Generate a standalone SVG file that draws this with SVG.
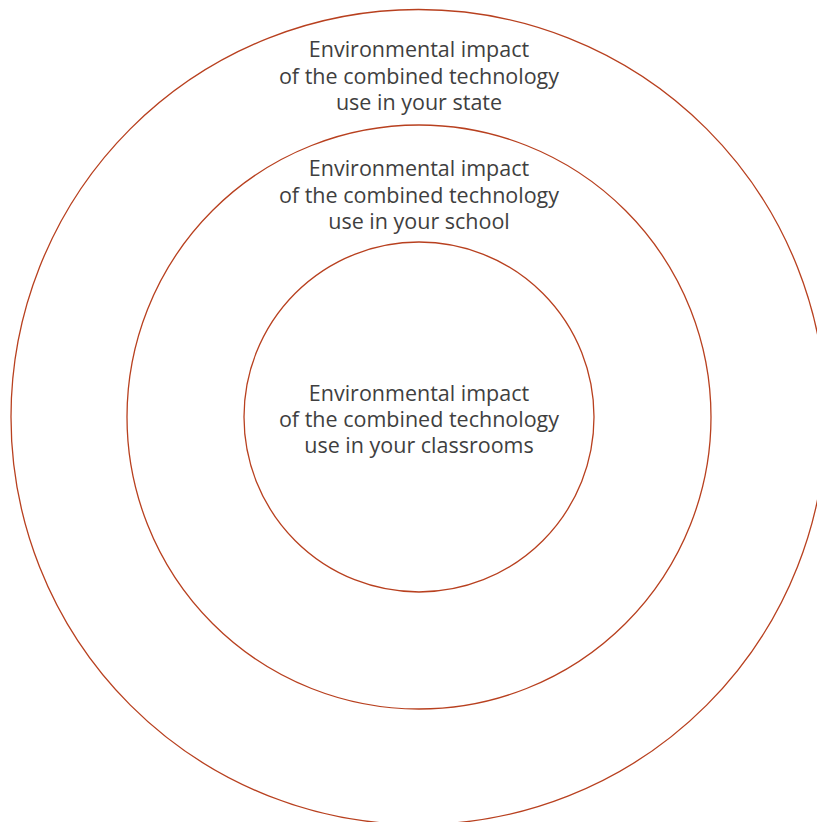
<svg xmlns="http://www.w3.org/2000/svg" width="817" height="822" viewBox="0 0 817 822">
<style>
.ring{fill:none;stroke:#b8401f;stroke-width:1.3}
.lbl{font-family:"Open Sans","Liberation Sans",sans-serif;font-size:21.5px;fill:#3f3f3f;text-anchor:middle}
</style>
<rect width="817" height="822" fill="#fff"/>
<g id="state">
<circle class="ring" cx="418.5" cy="417" r="407.5"/>
<text class="lbl"><tspan x="419" y="57">Environmental impact</tspan><tspan x="419" y="83.5">of the combined technology</tspan><tspan x="419" y="110">use in your state</tspan></text>
</g>
<g id="school">
<circle class="ring" cx="419" cy="417" r="292"/>
<text class="lbl"><tspan x="419" y="176">Environmental impact</tspan><tspan x="419" y="202.5">of the combined technology</tspan><tspan x="419" y="229">use in your school</tspan></text>
</g>
<g id="classrooms">
<circle class="ring" cx="419" cy="417" r="175"/>
<text class="lbl"><tspan x="419" y="401">Environmental impact</tspan><tspan x="419" y="427">of the combined technology</tspan><tspan x="419" y="453">use in your classrooms</tspan></text>
</g>
</svg>
